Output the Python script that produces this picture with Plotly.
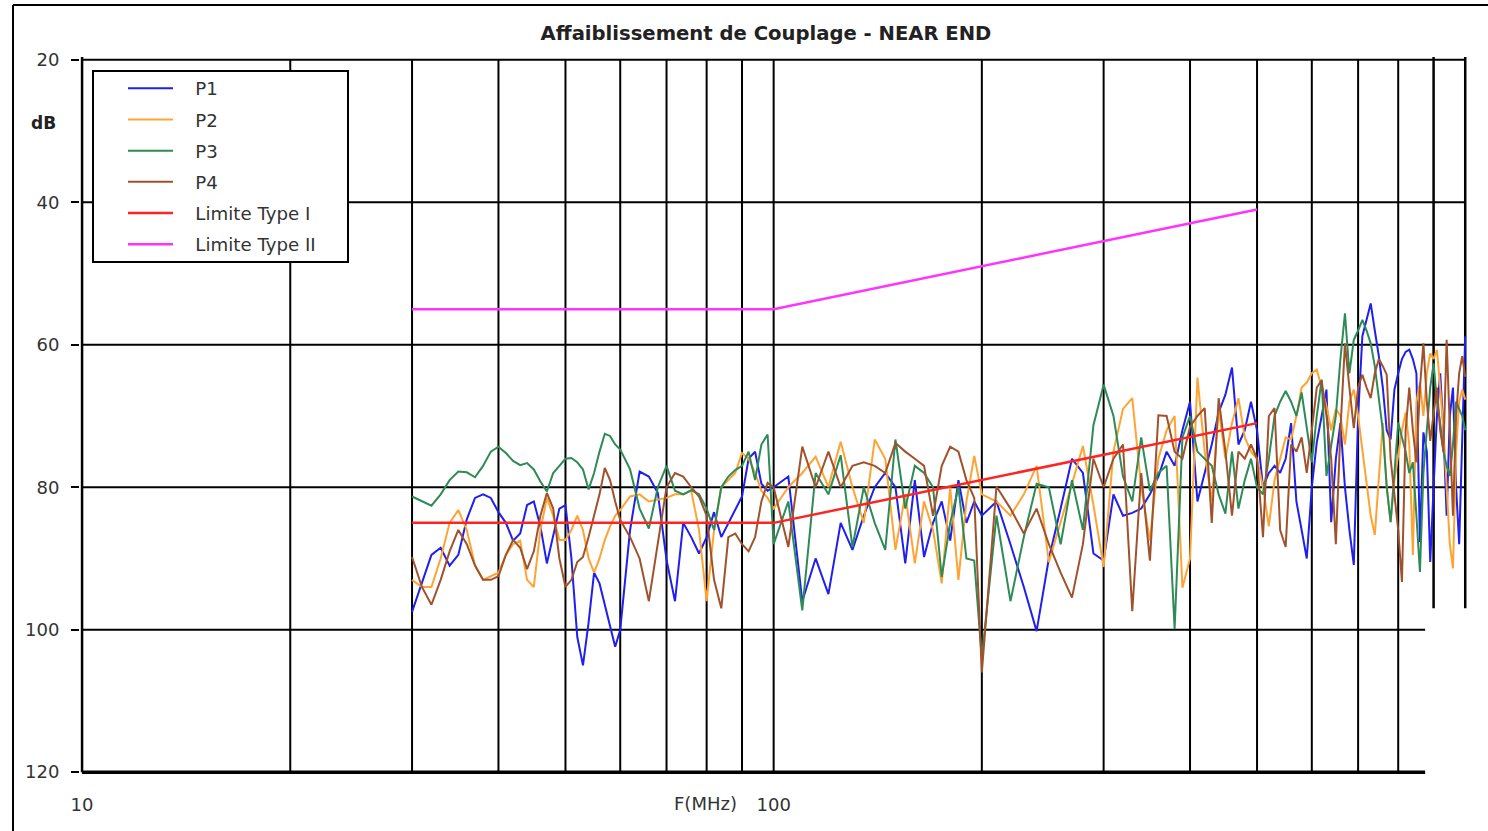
import plotly.graph_objects as go

# ---------------- data ----------------
freq_mhz = [30, 31, 32, 33, 34, 35, 36, 37, 38, 39, 40, 41, 42, 43, 44, 45, 46, 47, 48, 49,
            50, 51, 52, 53, 54, 55, 56, 57, 58, 59, 60,
            62, 64, 66, 68, 70, 72, 74, 76, 78, 80, 82, 84, 86, 88, 90, 92, 94, 96, 98, 100,
            105, 110, 115, 120, 125, 130, 135, 140, 145, 150, 155, 160, 165, 170, 175, 180, 185, 190, 195, 200,
            210, 220, 230, 240, 250, 260, 270, 280, 290, 300, 310, 320, 330,
            340, 350, 360, 370, 380, 390, 400, 410, 420, 430, 440, 450, 460, 470, 480, 490, 500, 510, 520, 530, 540, 550,
            560, 570, 580, 590, 600, 610, 620, 630, 640, 650, 660, 670, 680, 690, 700, 710, 720, 730, 740, 750,
            760, 770, 780, 790, 800, 810, 820, 830, 840, 850, 860, 870, 880, 890, 900, 910, 920, 930, 940, 950,
            960, 970, 980, 990, 1000]

p1 = [97.5, 93.5, 89.5, 88.5, 91, 89.5, 84.5, 81.5, 81, 81.5, 83.5, 85, 87.5, 86.5, 82.5, 82, 85.5, 90.7, 87, 83,
      82.5, 90, 101, 105, 99, 92, 93.5, 96.5, 99.6, 102.4, 100,
      86, 77.8, 78.5, 80.8, 90.2, 96, 85, 87, 89.3, 87, 83.5, 87, 85, 83, 81.3, 76, 75, 79.5, 80.5, 80,
      78.5, 96, 90, 95, 85, 88.8, 84, 80, 78, 80, 90.7, 79, 89.8, 85, 82, 87.5, 79, 85, 82, 84,
      82, 88, 94, 100.2, 90, 83, 76, 78, 89.3, 90.3, 81, 84, 83.6,
      83, 81, 78.5, 75, 77, 72, 68, 82, 78, 74, 69.5, 67, 63.2, 74, 72, 68, 72, 80, 78, 77, 78, 76,
      71, 82, 86, 90, 80, 73.7, 70, 66.3, 84.9, 76, 71, 80, 86, 90.9, 70, 58.8, 56.5, 54.2, 58, 61.6,
      66, 72, 73.3, 66.3, 64, 62, 61, 60.7, 62, 64, 87.7, 72.3, 75, 90.5, 80, 70, 64, 72, 84, 70,
      66, 80, 88, 72, 58.8]

p2 = [93, 94, 94, 90, 85, 83.2, 86, 91, 93, 92.5, 92, 89.5, 88, 87.5, 93, 94, 86, 81.5, 84, 87.4,
      87.4, 86, 84, 86, 90, 92, 90, 87.4, 85.5, 84, 83.2,
      81.3, 81, 82, 81.8, 81.5, 81, 81, 80.5, 86, 96, 86, 80, 79, 78, 75.2, 76, 78, 80.5, 81.5, 83,
      80, 78, 75.7, 80, 73.6, 80, 85, 73.3, 76, 88.8, 81, 90.7, 82, 86, 93.5, 80, 93, 82, 75.6, 81,
      82, 84, 81, 77, 90.5, 85, 79.5, 74.2, 82.5, 91.2, 75, 69, 67.5,
      80, 87.5, 76, 72, 70, 94.1, 90, 64.6, 75, 82, 69, 76, 71, 67.5, 73, 75, 76, 80, 85.5, 79, 76, 73,
      73.3, 70, 66, 65.3, 64, 63.5, 66, 68.6, 72, 69, 70, 74, 68, 66.3, 70, 75, 80, 84, 86.7, 78,
      71, 80, 84.9, 79, 75.6, 72, 69.5, 74, 89.5, 68, 65.3, 70, 64, 61.2, 62, 60.7, 66, 71.9, 80, 88,
      91.4, 75, 68, 66.3, 67.7]

p3 = [81.3, 82, 82.6, 81, 79, 77.8, 77.9, 78.6, 77, 75, 74.3, 75.2, 76.3, 76.9, 76.6, 77.5, 79.2, 80.6, 78, 77,
      76, 75.9, 76.5, 77.5, 80.3, 78, 75, 72.5, 72.8, 74, 74.7,
      77.5, 83, 85.8, 80, 77, 80.5, 81, 80.4, 81, 83, 86, 80, 78.5, 77.6, 77, 75, 79, 74, 72.6, 88,
      82, 97.3, 78, 81, 75.5, 88.4, 80, 85, 88.8, 73.3, 83, 77, 78, 80, 92.6, 85, 80, 90, 90.3, 104,
      84, 96, 87, 79.5, 80, 88, 79, 86, 71.3, 65.6, 70, 78.5, 82,
      73, 80.5, 78, 77, 99.9, 73, 70, 75, 76, 77, 81, 83.7, 75, 83, 79, 76, 80, 81, 76, 70, 68, 66.5,
      68, 70, 66.7, 72, 76.5, 70, 64.9, 78.4, 74, 70, 62, 55.6, 64, 59.3, 58, 56.5, 58, 59.8, 63, 67.2,
      72, 80, 84.9, 78, 70.9, 73, 75, 78, 76.5, 84, 91.9, 78, 72.3, 66, 62.6, 68, 71, 75, 77, 78.4,
      74, 68, 69, 70, 72]

p4 = [89.8, 94, 96.5, 93, 89, 86, 88, 91, 93, 93, 92.5, 89.5, 87.4, 88.5, 91.5, 89, 84, 80.8, 83, 90,
      94, 93, 90.5, 89.8, 87, 84, 81, 77.3, 79, 82, 84.6,
      87, 90, 96, 88, 80, 78, 78.5, 80, 81.3, 84, 93, 97, 87, 86.5, 88, 89, 87, 82, 79.4, 80,
      88.4, 74.3, 80, 75, 80, 77, 76.5, 77, 78, 73.8, 75, 76, 77, 84, 77, 74.3, 75, 79, 81.5, 106,
      79.9, 83, 86.5, 83, 88, 92, 95.5, 88, 76, 80, 76, 74, 97.4,
      78, 90.3, 69.9, 70, 75, 76, 71.5, 70, 68.9, 85, 67.5, 75, 84, 75, 76, 74, 76, 87, 70, 68.9, 86, 88.4,
      74, 75, 73, 78, 72, 66, 65, 70, 76, 88, 72, 59.8, 66, 71.7, 66, 64.2, 66, 67.5, 64, 62,
      63, 64.2, 76, 81, 86, 93.3, 72, 66, 72, 76.5, 66, 59.8, 68, 73.5, 70, 66, 72, 75, 59.3, 72,
      84, 70, 64, 61.6, 64.5]

limit_freq = [30, 100, 500]
limit_type1 = [85, 85, 71]
limit_type2 = [55, 55, 41]

series_names = ["P1", "P2", "P3", "P4", "Limite Type I", "Limite Type II"]
series_colors = ["#1f1fef", "#ffa333", "#2e8b57", "#a0522d", "#ff2424", "#ff33ff"]

# grid definition (chart furniture)
grid_full_freq = [20, 30, 40, 50, 60, 70, 80, 90, 100, 200, 300, 400, 500, 600, 700, 800]
grid_short_freq = [900, 1000]
grid_full_db = [20, 40, 60, 80]
grid_short_db = [100, 120]
y_ticks = [20, 40, 60, 80, 100, 120]

FONT = "DejaVu Sans"
PAD = "\u00a0\u00a0\u00a0"

fig = go.Figure()

# ---------- grid drawn as traces ----------
def vlines(xs, y0, y1):
    X, Y = [], []
    for x in xs:
        X += [x, x, None]
        Y += [y0, y1, None]
    return X, Y

def hlines(ys, x0, x1):
    X, Y = [], []
    for y in ys:
        X += [x0, x1, None]
        Y += [y, y, None]
    return X, Y

gx, gy = vlines(grid_full_freq, 20, 120)
fig.add_trace(go.Scatter(x=gx, y=gy, mode="lines", line=dict(color="black", width=2),
                         showlegend=False, hoverinfo="skip"))
gx, gy = vlines(grid_short_freq, 19.3, 97)
fig.add_trace(go.Scatter(x=gx, y=gy, mode="lines", line=dict(color="black", width=2.5),
                         showlegend=False, hoverinfo="skip"))
gx, gy = hlines(grid_full_db, 10, 1000)
fig.add_trace(go.Scatter(x=gx, y=gy, mode="lines", line=dict(color="black", width=2),
                         showlegend=False, hoverinfo="skip"))
gx, gy = hlines(grid_short_db[:1], 10, 875)
fig.add_trace(go.Scatter(x=gx, y=gy, mode="lines", line=dict(color="black", width=2),
                         showlegend=False, hoverinfo="skip"))
gx, gy = hlines(grid_short_db[1:], 10, 875)
fig.add_trace(go.Scatter(x=gx, y=gy, mode="lines", line=dict(color="black", width=3.5),
                         showlegend=False, hoverinfo="skip"))
gx, gy = vlines([10], 19.3, 120)
fig.add_trace(go.Scatter(x=gx, y=gy, mode="lines", line=dict(color="black", width=2.5),
                         showlegend=False, hoverinfo="skip"))

# ---------- data ----------
for name, vals, col in zip(series_names[:4], [p1, p2, p3, p4], series_colors[:4]):
    fig.add_trace(go.Scatter(x=freq_mhz, y=vals, mode="lines", name=PAD + name, legendgroup=name,
                             line=dict(color=col, width=2)))
fig.add_trace(go.Scatter(x=limit_freq, y=limit_type1, mode="lines", name=PAD + series_names[4],
                         legendgroup=series_names[4], line=dict(color=series_colors[4], width=2.5)))
fig.add_trace(go.Scatter(x=limit_freq, y=limit_type2, mode="lines", name=PAD + series_names[5],
                         legendgroup=series_names[5], line=dict(color=series_colors[5], width=2.5)))

W, H = 1488, 831
L, R, T, B = 80, 20, 57, 56
pw, ph = W - L - R, H - T - B

def px(xp):
    return (xp - L) / pw

def py(yp):
    return (H - B - yp) / ph

fig.update_layout(
    width=W, height=H,
    margin=dict(l=L, r=R, t=T, b=B),
    paper_bgcolor="white", plot_bgcolor="white",
    font=dict(family=FONT, color="#333"),
    title=dict(text="<b>Affaiblissement de Couplage - NEAR END</b>",
               x=766 / W, xanchor="center", y=1 - 33 / H, yanchor="middle",
               font=dict(family=FONT, size=19.6, color="#222")),
    showlegend=True,
    legend=dict(x=px(123), y=py(70), xanchor="left", yanchor="top",
                bgcolor="rgba(0,0,0,0)", borderwidth=0,
                tracegroupgap=4.5, itemwidth=45,
                font=dict(family=FONT, size=18.2, color="#333")),
    xaxis=dict(type="log", range=[0.997, 3.004], showgrid=False, zeroline=False,
               showline=False, tickvals=[10, 100], ticktext=["10", "100"], ticks="",
               ticklabelstandoff=17, tickfont=dict(family=FONT, size=18, color="#333")),
    yaxis=dict(range=[120.4, 19.6], showgrid=False, zeroline=False, showline=False,
               tickvals=y_ticks, ticks="outside", ticklen=8, tickwidth=1.5, tickcolor="black",
               ticklabelstandoff=8, tickfont=dict(family=FONT, size=18, color="#333")),
    shapes=[
        dict(type="rect", xref="paper", yref="paper", x0=px(93), x1=px(348), y0=py(262), y1=py(71),
             line=dict(color="black", width=2), fillcolor="white", layer="above"),
        dict(type="line", xref="paper", yref="paper", x0=px(13), x1=px(13), y0=py(H + 5), y1=py(5),
             line=dict(color="black", width=2)),
        dict(type="line", xref="paper", yref="paper", x0=px(13), x1=px(W + 5), y0=py(5), y1=py(5),
             line=dict(color="black", width=2)),
    ],
    annotations=[
        dict(text="<b>dB</b>", xref="paper", yref="paper", x=px(43), y=py(123),
             showarrow=False, xanchor="center", yanchor="middle",
             font=dict(family=FONT, size=17, color="#222")),
        dict(text="F(MHz)", xref="paper", yref="paper", x=px(705), y=py(803),
             showarrow=False, xanchor="center", yanchor="middle",
             font=dict(family=FONT, size=18, color="#333")),
    ],
)

fig.write_html("out.html", config={"displayModeBar": False},
               post_script="document.body.style.margin='0px';document.body.style.overflow='hidden';")
